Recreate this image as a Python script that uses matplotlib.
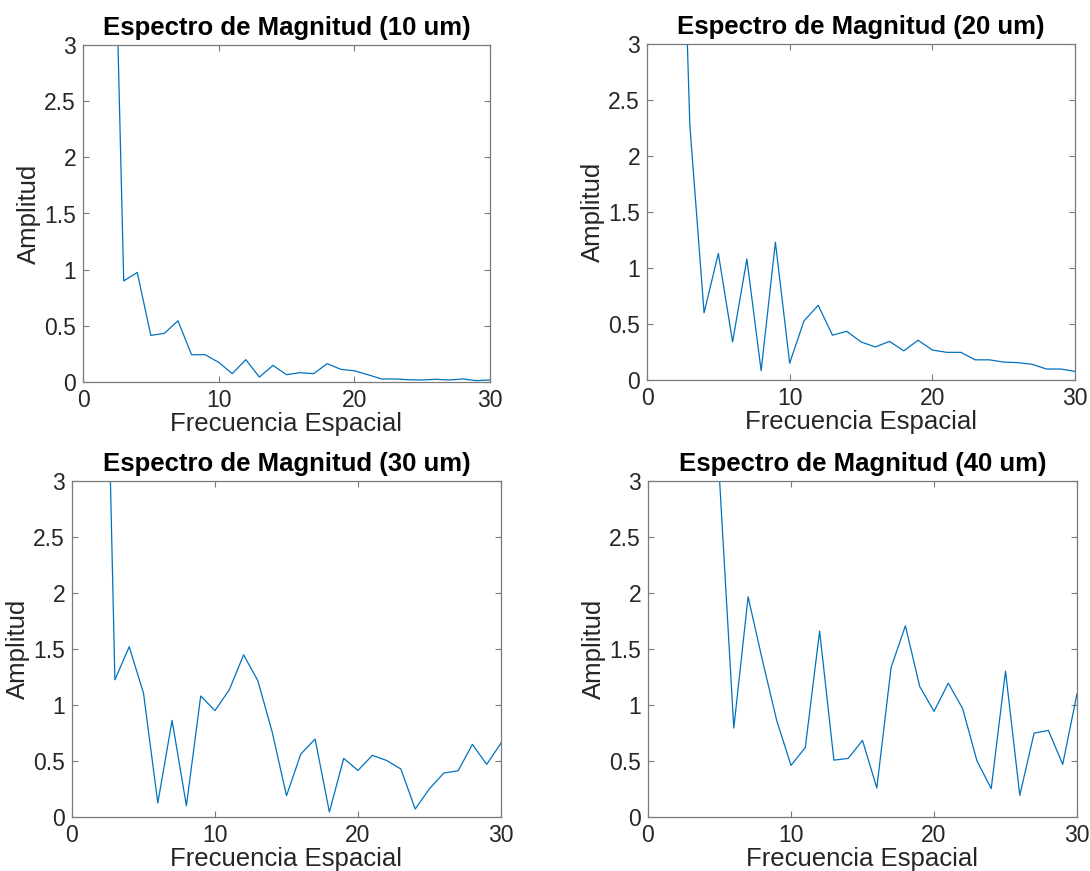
import matplotlib
matplotlib.use("Agg")
import matplotlib.pyplot as plt

plt.rcParams['font.family'] = ['Liberation Sans', 'DejaVu Sans']

freq = list(range(1, 31))

amp_10um = [12.0, 5.9, 0.90, 0.975, 0.415, 0.433, 0.545, 0.243, 0.243, 0.175,
            0.074, 0.199, 0.044, 0.148, 0.065, 0.083, 0.074, 0.163, 0.113, 0.100,
            0.065, 0.027, 0.027, 0.020, 0.018, 0.024, 0.018, 0.027, 0.012, 0.018]
amp_20um = [15.0, 6.5, 2.28, 0.60, 1.13, 0.34, 1.08, 0.083, 1.23, 0.15,
            0.527, 0.667, 0.40, 0.435, 0.34, 0.295, 0.345, 0.26, 0.355, 0.268,
            0.247, 0.247, 0.18, 0.18, 0.16, 0.155, 0.14, 0.098, 0.098, 0.077]
amp_30um = [16.0, 6.9, 1.225, 1.52, 1.106, 0.125, 0.862, 0.10, 1.08, 0.95,
            1.136, 1.448, 1.216, 0.758, 0.19, 0.562, 0.696, 0.045, 0.523, 0.416,
            0.55, 0.505, 0.428, 0.071, 0.253, 0.392, 0.413, 0.648, 0.47, 0.66]
amp_40um = [18.0, 10.0, 8.0, 6.0, 3.02, 0.794, 1.966, 1.40, 0.862, 0.461,
            0.62, 1.66, 0.508, 0.523, 0.684, 0.259, 1.335, 1.707, 1.166, 0.943,
            1.195, 0.969, 0.503, 0.253, 1.302, 0.193, 0.749, 0.773, 0.47, 1.10]

titles = ['Espectro de Magnitud (10 um)', 'Espectro de Magnitud (20 um)',
          'Espectro de Magnitud (30 um)', 'Espectro de Magnitud (40 um)']
series = [amp_10um, amp_20um, amp_30um, amp_40um]
xticks = [0, 10, 20, 30]
yticks = [0, 0.5, 1, 1.5, 2, 2.5, 3]
yticklabels = ['0', '0.5', '1', '1.5', '2', '2.5', '3']
xlabel = 'Frecuencia Espacial'
ylabel = 'Amplitud'

W, H = 1090, 871
boxes = [(83, 45, 490, 382), (647, 44, 1075, 380),
         (72, 481, 501, 817), (648, 481, 1077, 817)]

fig = plt.figure(figsize=(W / 100, H / 100), dpi=100)
axcol = '#7a7a7a'
txtcol = '#262626'
for (x0, y0, x1, y1), vals, title in zip(boxes, series, titles):
    ax = fig.add_axes([x0 / W, 1 - y1 / H, (x1 - x0) / W, (y1 - y0) / H])
    ax.plot(freq, vals, color='#0072BD', lw=0.9)
    ax.set_xlim(0, 30)
    ax.set_ylim(0, 3)
    ax.set_xticks(xticks)
    ax.set_yticks(yticks)
    ax.set_yticklabels(yticklabels)
    for s in ax.spines.values():
        s.set_color(axcol)
        s.set_linewidth(0.9)
    ax.tick_params(direction='in', length=4, width=0.8, color=axcol,
                   labelcolor=txtcol, labelsize=16.5, top=True, right=True, pad=5)
    ax.set_title(title, fontsize=18.5, fontweight='bold', color='black', pad=7)
    ax.set_xlabel(xlabel, fontsize=18.5, color=txtcol, labelpad=0)
    ax.set_ylabel(ylabel, fontsize=18.5, color=txtcol, labelpad=2)

fig.savefig('out.png', dpi=100)
